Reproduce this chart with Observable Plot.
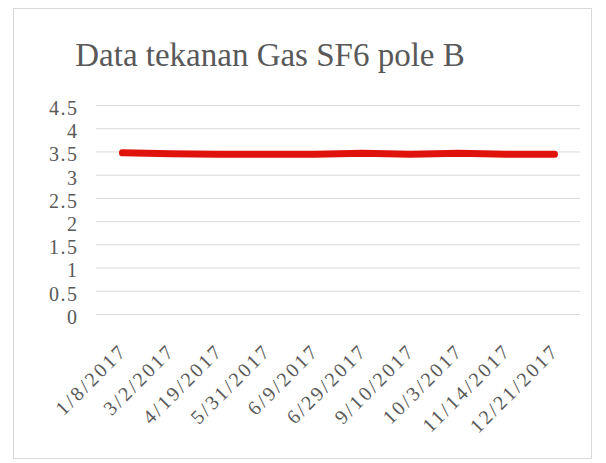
<!DOCTYPE html>
<html>
<head>
<meta charset="utf-8">
<script src="https://cdn.jsdelivr.net/npm/d3@7"></script>
<script src="https://cdn.jsdelivr.net/npm/@observablehq/plot@0.6"></script>
<style>
  html, body { margin: 0; padding: 0; background: #fff; }
  #wrap { position: relative; width: 606px; height: 463px; overflow: hidden; }
  #frame { position: absolute; left: 13px; top: 8px; width: 579px; height: 451px; border: 1px solid #d9d9d9; box-sizing: border-box; }
  #title { position: absolute; left: 0; width: 540px; top: 35px; text-align: center;
           font-family: "Liberation Serif", serif; font-size: 33px; color: #595959; line-height: 40px; }
  #chart { position: absolute; left: 0; top: 0; }
</style>
</head>
<body>
<div id="wrap">
  <div id="frame"></div>
  <div id="title">Data tekanan Gas SF6 pole B</div>
  <div id="chart"></div>
</div>
<script>
const dates = ["1/8/2017", "3/2/2017", "4/19/2017", "5/31/2017", "6/9/2017", "6/29/2017", "9/10/2017", "10/3/2017", "11/14/2017", "12/21/2017"];
const pressure = [3.48, 3.46, 3.45, 3.45, 3.45, 3.47, 3.45, 3.47, 3.45, 3.45];
const yTicks = [0, 0.5, 1, 1.5, 2, 2.5, 3, 3.5, 4, 4.5];

const rows = dates.map((d, i) => ({date: d, value: pressure[i]}));

const chart = Plot.plot({
  width: 606,
  height: 463,
  marginLeft: 96,
  marginRight: 26,
  marginTop: 105,
  marginBottom: 149,
  style: {fontFamily: "Liberation Serif", color: "#595959", background: "transparent", letterSpacing: "1.5px"},
  x: {type: "point", domain: dates, padding: 0.5, label: null},
  y: {domain: [0, 4.5], label: null},
  marks: [
    Plot.gridY(yTicks, {stroke: "#d9d9d9", strokeOpacity: 1, strokeWidth: 1}),
    Plot.axisY(yTicks, {tickSize: 0, tickPadding: 18, fontSize: 20, dy: 3, tickFormat: d => String(d), fill: "#595959"}),
    Plot.axisX({tickSize: 0, tickRotate: -45, tickPadding: 33, fontSize: 20, dx: 1, fill: "#595959"}),
    Plot.line(rows, {x: "date", y: "value", stroke: "#e0120c", strokeWidth: 7, strokeLinecap: "round", strokeLinejoin: "round"})
  ]
});
d3.select(chart).selectAll('g[aria-label="x-axis tick label"] text').style("letter-spacing", "2.5px");
document.getElementById("chart").appendChild(chart);
</script>
</body>
</html>
